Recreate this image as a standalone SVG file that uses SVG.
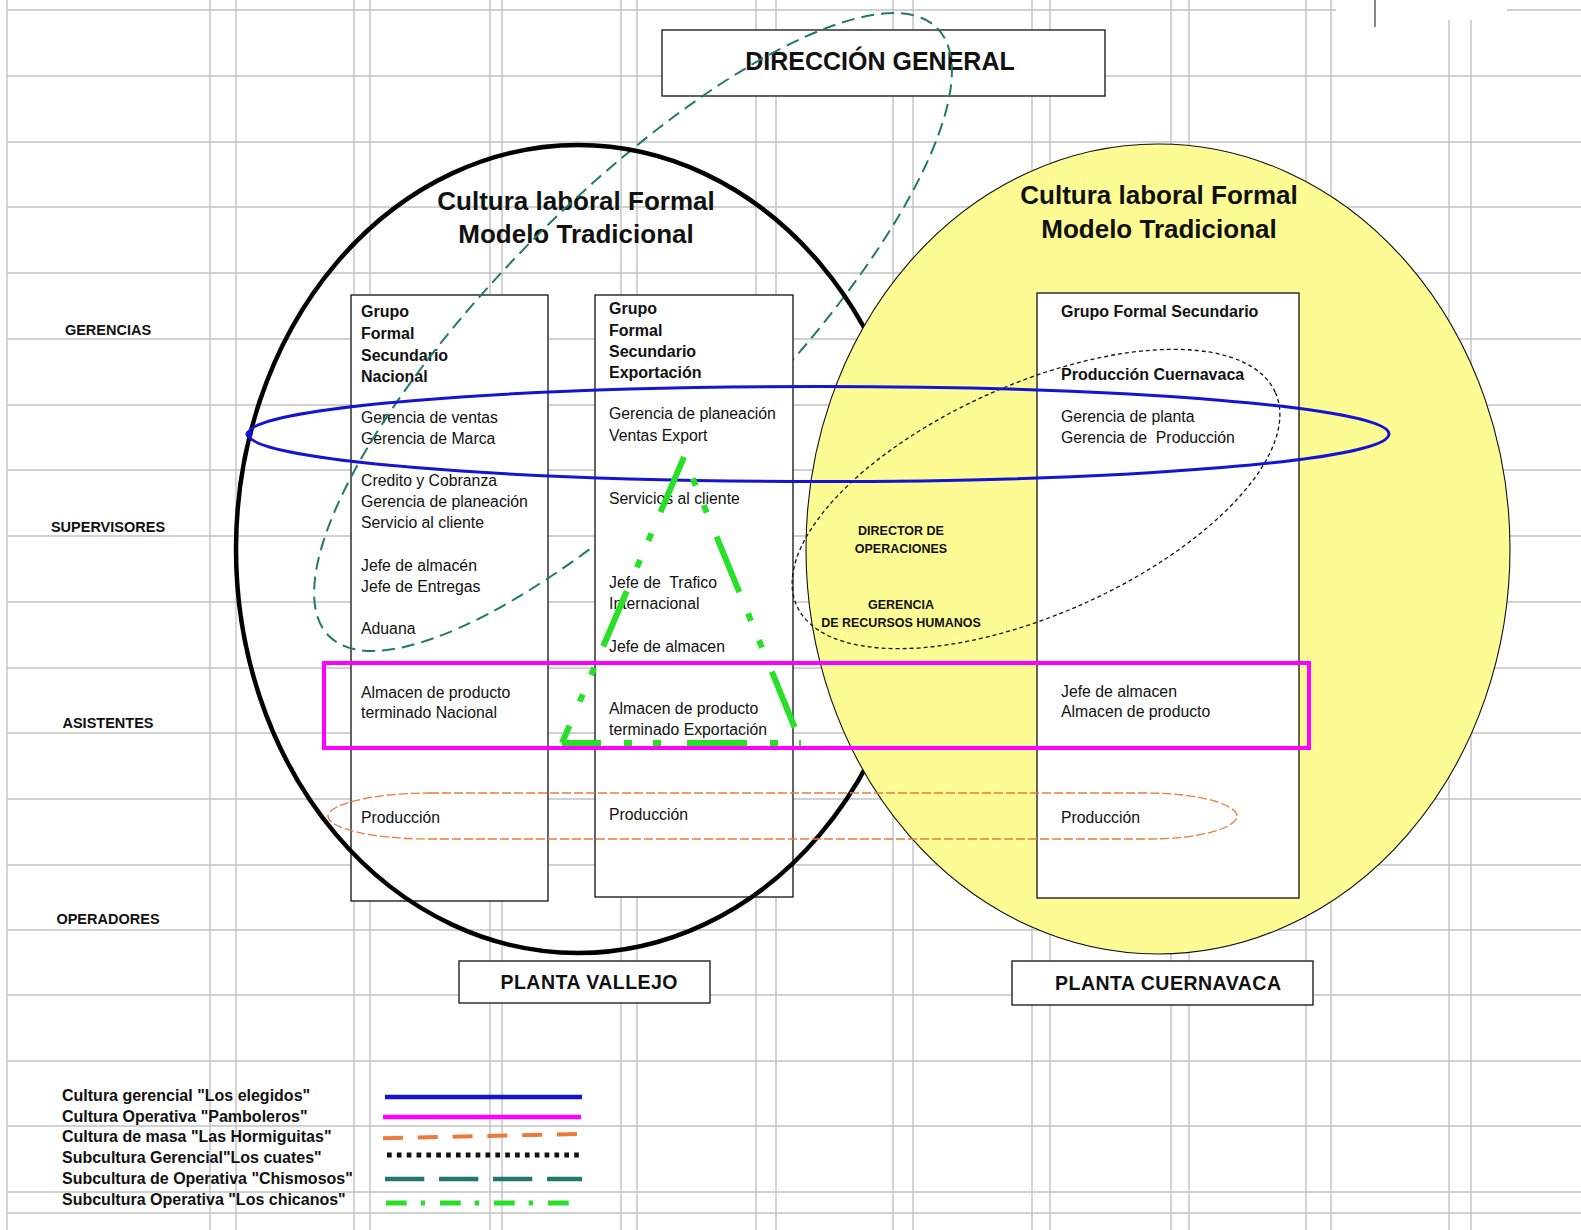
<svg xmlns="http://www.w3.org/2000/svg" width="1581" height="1230" viewBox="0 0 1581 1230">
<style>
text { font-family: "Liberation Sans", Arial, sans-serif; fill: #111; }
.h { font-size: 16px; font-weight: bold; }
.n { font-size: 15.8px; }
.lvl { font-size: 14.5px; font-weight: bold; text-anchor: middle; }
.ttl { font-size: 26px; font-weight: bold; text-anchor: middle; }
.sm { font-size: 12.5px; font-weight: bold; text-anchor: middle; }
.plant { font-size: 19.5px; font-weight: bold; text-anchor: middle; }
.leg { font-size: 16px; font-weight: bold; }
.box { fill: #fff; stroke: #222; stroke-width: 1.4; }
.grid { stroke: #c2c2c2; stroke-width: 1.4; fill: none; }
.blue { stroke: #1414d2; fill: none; }
.mag { stroke: #ff00ff; fill: none; }
.orange { stroke: #ec7a3a; fill: none; }
.dots { stroke: #111; fill: none; }
.teal { stroke: #22786c; fill: none; }
.green { stroke: #28e028; fill: none; }
.tri { stroke-width: 6; stroke-dasharray: 60 23 8 21 8 26; }
</style>
<rect x="0" y="0" width="1581" height="1230" fill="#fff"/>
<g id="grid">
<path class="grid" d="M7,0V1230 M210,0V1230 M236,0V1230 M354,0V1230 M370,0V1230 M490,0V1230 M502,0V1230 M621,0V1230 M637,0V1230 M756,0V1230 M776,0V1230 M893,0V1230 M913,0V1230 M1032,0V1230 M1050,0V1230 M1171,0V1230 M1189,0V1230 M1306,0V1230 M1331,0V1230 M1449,0V1230 M1471,0V1230 M7,10H1581 M7,76H1581 M7,142H1581 M7,207H1581 M7,273H1581 M7,339H1581 M7,405H1581 M7,470H1581 M7,536H1581 M7,602H1581 M7,668H1581 M7,733H1581 M7,799H1581 M7,865H1581 M7,930H1581 M7,995H1581 M7,1061H1581 M7,1126H1581 M7,1192H1581 M7,1213H1581"/>
<rect x="1336" y="0" width="171" height="20" fill="#fff"/>
<line x1="1375" y1="0" x2="1375" y2="27" stroke="#111" stroke-width="1"/>
</g>
<g id="direccion-general">
<rect class="box" x="662" y="30" width="443" height="66" stroke-width="1.6"/>
<text x="880" y="70" font-size="25" font-weight="bold" text-anchor="middle">DIRECCIÓN GENERAL</text>
</g>
<g id="titulo-vallejo">
<text class="ttl" x="576" y="210">Cultura laboral Formal</text>
<text class="ttl" x="576" y="243">Modelo Tradicional</text>
</g>
<g id="grupo-nacional">
<rect class="box" x="351" y="295" width="197" height="606"/>
<text class="h" x="361" y="317">Grupo</text>
<text class="h" x="361" y="339">Formal</text>
<text class="h" x="361" y="361">Secundario</text>
<text class="h" x="361" y="382">Nacional</text>
<text class="n" x="361" y="423">Gerencia de ventas</text>
<text class="n" x="361" y="444">Gerencia de Marca</text>
<text class="n" x="361" y="486">Credito y Cobranza</text>
<text class="n" x="361" y="507">Gerencia de planeación</text>
<text class="n" x="361" y="528">Servicio al cliente</text>
<text class="n" x="361" y="571">Jefe de almacén</text>
<text class="n" x="361" y="592">Jefe de Entregas</text>
<text class="n" x="361" y="634">Aduana</text>
<text class="n" x="361" y="698">Almacen de producto</text>
<text class="n" x="361" y="718">terminado Nacional</text>
<text class="n" x="361" y="823">Producción</text>
</g>
<g id="subcultura-chismosos">
<ellipse class="teal" cx="633" cy="332" rx="430" ry="136" transform="rotate(-45 633 332)" stroke-width="2" stroke-dasharray="13 7"/>
</g>
<g id="grupo-exportacion">
<rect class="box" x="595" y="295" width="198" height="602"/>
<text class="h" x="609" y="314">Grupo</text>
<text class="h" x="609" y="336">Formal</text>
<text class="h" x="609" y="357">Secundario</text>
<text class="h" x="609" y="378">Exportación</text>
<text class="n" x="609" y="419">Gerencia de planeación</text>
<text class="n" x="609" y="441">Ventas Export</text>
<text class="n" x="609" y="504">Servicios al cliente</text>
<text class="n" x="609" y="588" xml:space="preserve">Jefe de  Trafico</text>
<text class="n" x="609" y="609">Internacional</text>
<text class="n" x="609" y="652">Jefe de almacen</text>
<text class="n" x="609" y="714">Almacen de producto</text>
<text class="n" x="609" y="735">terminado Exportación</text>
<text class="n" x="609" y="820">Producción</text>
</g>
<g id="planta-vallejo-cultura">
<ellipse cx="578" cy="549" rx="342" ry="404" fill="none" stroke="#000" stroke-width="4.5"/>
</g>
<g id="planta-cuernavaca-cultura">
<ellipse cx="1158" cy="549" rx="352" ry="405" fill="#fdfb94" stroke="#111" stroke-width="1.1"/>
<text class="ttl" x="1159" y="204">Cultura laboral Formal</text>
<text class="ttl" x="1159" y="238">Modelo Tradicional</text>
</g>
<g id="grupo-cuernavaca">
<rect class="box" x="1037" y="293" width="262" height="605"/>
<text class="h" x="1061" y="317">Grupo Formal Secundario</text>
<text class="h" x="1061" y="380">Producción Cuernavaca</text>
<text class="n" x="1061" y="422">Gerencia de planta</text>
<text class="n" x="1061" y="443" xml:space="preserve">Gerencia de  Producción</text>
<text class="n" x="1061" y="697">Jefe de almacen</text>
<text class="n" x="1061" y="717">Almacen de producto</text>
<text class="n" x="1061" y="823">Producción</text>
</g>
<g id="direccion-operaciones">
<text class="sm" x="901" y="535">DIRECTOR DE</text>
<text class="sm" x="901" y="553">OPERACIONES</text>
<text class="sm" x="901" y="609">GERENCIA</text>
<text class="sm" x="901" y="627">DE RECURSOS HUMANOS</text>
</g>
<g id="culturas">
<ellipse class="dots" cx="1036" cy="499" rx="262" ry="115" transform="rotate(-24 1036 499)" stroke-width="1.3" stroke-dasharray="4 3"/>
<ellipse class="blue" cx="818.5" cy="434" rx="570.5" ry="47.5" stroke-width="3"/>
<circle cx="249" cy="434" r="3.5" fill="#1414d2"/>
<path class="orange" stroke-width="1.3" stroke-dasharray="9 3" d="M430,793 L1145,793 C1205,793 1237,806 1237,816 C1237,827 1205,839 1145,839 L430,839 C370,839 328,828 328,816 C328,805 370,793 430,793 Z"/>
<rect class="mag" x="324" y="663" width="985" height="85" stroke-width="4"/>
<line class="green tri" x1="684" y1="457" x2="562" y2="743"/>
<line class="green tri" x1="684" y1="457" x2="801" y2="743" stroke-dashoffset="60"/>
<line class="green tri" x1="562" y1="743" x2="801" y2="743" stroke-dashoffset="21"/>
</g>
<g id="niveles">
<text class="lvl" x="108" y="335">GERENCIAS</text>
<text class="lvl" x="108" y="532">SUPERVISORES</text>
<text class="lvl" x="108" y="728">ASISTENTES</text>
<text class="lvl" x="108" y="924">OPERADORES</text>
</g>
<g id="planta-vallejo">
<rect class="box" x="459" y="961" width="251" height="42"/>
<text class="plant" x="589" y="989" textLength="177">PLANTA VALLEJO</text>
</g>
<g id="planta-cuernavaca">
<rect class="box" x="1012" y="961" width="301" height="44"/>
<text class="plant" x="1168" y="990" textLength="226">PLANTA CUERNAVACA</text>
</g>
<g id="leyenda">
<text class="leg" x="62" y="1101">Cultura gerencial "Los elegidos"</text>
<text class="leg" x="62" y="1122">Cultura Operativa "Pamboleros"</text>
<text class="leg" x="62" y="1142">Cultura de masa "Las Hormiguitas"</text>
<text class="leg" x="62" y="1163">Subcultura Gerencial"Los cuates"</text>
<text class="leg" x="62" y="1184">Subcultura de Operativa "Chismosos"</text>
<text class="leg" x="62" y="1205">Subcultura Operativa "Los chicanos"</text>
<line class="blue" x1="385" y1="1097" x2="582" y2="1097" stroke-width="4.7"/>
<line class="mag" x1="383" y1="1117" x2="581" y2="1117" stroke-width="4.7"/>
<line class="orange" x1="383" y1="1138.3" x2="577" y2="1134" stroke-width="4" stroke-dasharray="20 14.8"/>
<line class="dots" x1="387" y1="1155" x2="581" y2="1155" stroke-width="5" stroke-dasharray="4.7 5.15"/>
<line class="teal" x1="385" y1="1179" x2="582" y2="1179" stroke-width="4.5" stroke-dasharray="39.3 14.7"/>
<line class="green" x1="386" y1="1203" x2="569" y2="1203" stroke-width="5" stroke-dasharray="20.7 14 4.3 15"/>
</g>
</svg>
